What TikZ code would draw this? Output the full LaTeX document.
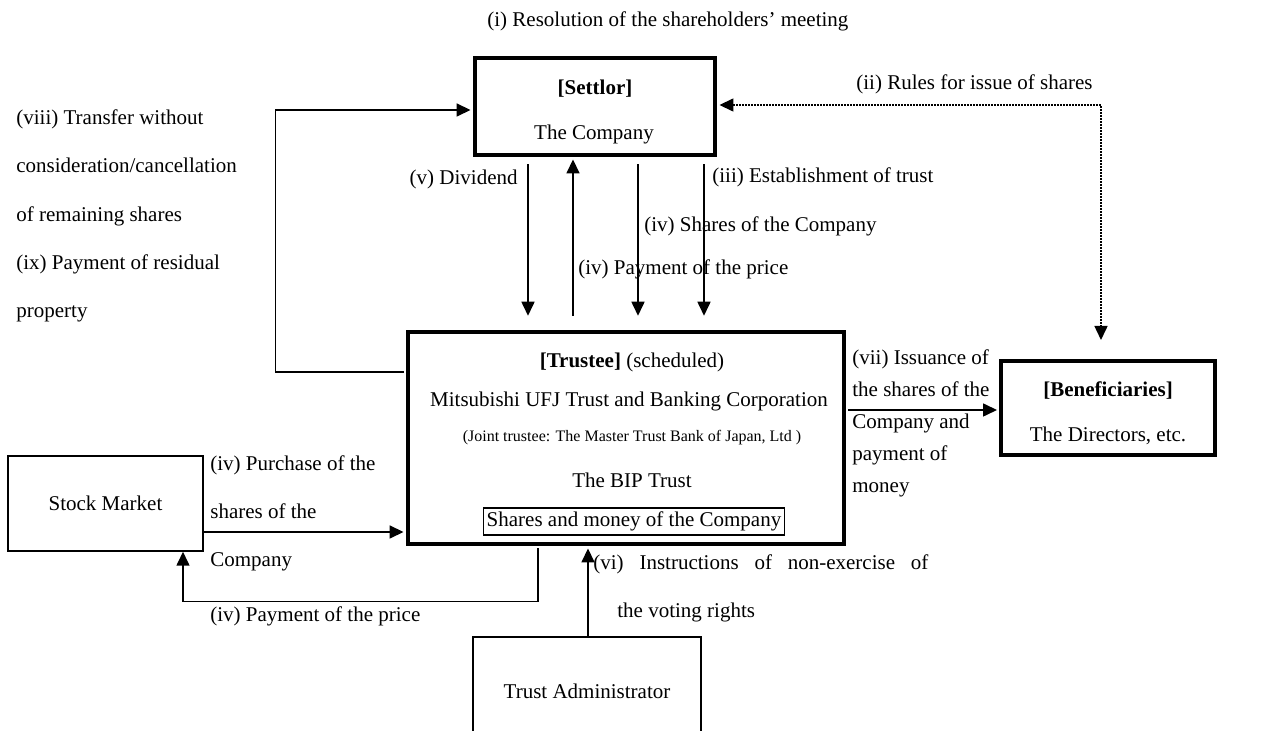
\documentclass[tikz,border=0pt]{standalone}
\usepackage{fontspec}
\setmainfont{Liberation Serif}
\usetikzlibrary{arrows.meta}

\tikzset{
  heavybox/.style={draw, line width=2.25pt, inner sep=0pt},
  lightbox/.style={draw, line width=0.75pt, inner sep=0pt},
  flow/.style={line width=0.8pt, -{Triangle[length=7pt,width=6.5pt]}},
  rulelink/.style={line width=0.75pt, dash pattern=on 0.75pt off 0.75pt,
    {Triangle[length=7pt,width=6.5pt]}-{Triangle[length=7pt,width=6.5pt]}},
  lbl/.style={inner sep=0pt, anchor=mid west},
  inlbl/.style={inner sep=0pt, anchor=mid},
}

\begin{document}
\begin{tikzpicture}[x=0.5pt,y=-0.5pt,font=\fontsize{10.5}{12.6}\selectfont]
  \useasboundingbox (0,0) rectangle (1280,731);
  \clip (0,0) rectangle (1280,731);

  % boxes
  \node[heavybox, minimum width=120pt, minimum height=48.5pt] (settlor) at (595,106.5) {};
  \node[heavybox, minimum width=218pt, minimum height=106pt] (trustee) at (626,438) {};
  \node[heavybox, line width=2pt, minimum width=107pt, minimum height=47pt] (benef) at (1108,408) {};
  \node[lightbox, minimum width=97.5pt, minimum height=47.5pt] (market) at (105.5,503.5) {Stock Market};
  \node[lightbox, minimum width=114pt, minimum height=54pt] (admin) at (587,691) {Trust Administrator};

  % texts inside the boxes
  \node[inlbl] (settlorhead) at (595,90) {\textbf{[Settlor]}};
  \node[inlbl] (settlorname) at (594,135) {The Company};
  \node[inlbl] (trusteehead) at (632,363) {\textbf{[Trustee]} (scheduled)};
  \node[inlbl] (trusteename) at (629,402) {Mitsubishi UFJ Trust and Banking Corporation};
  \node[inlbl] (jointtrustee) at (632,437) {\fontsize{8}{9.6}\selectfont (Joint trustee: The Master Trust Bank of Japan, Ltd )};
  \node[inlbl] (bip) at (632,483) {The BIP Trust};
  \node[lightbox, inner xsep=1.5pt, minimum height=13.5pt] (assets) at (634,521.5) {Shares and money of the Company};
  \node[inlbl] (benefhead) at (1108,392) {\textbf{[Beneficiaries]}};
  \node[inlbl] (benefname) at (1108,437) {The Directors, etc.};

  % connectors
  \draw[flow] ([xshift=-1.1pt,yshift=-21pt]trustee.north west) -- ++(-64pt,0)
    |- ([xshift=-1.1pt,yshift=-1.75pt]settlor.west);
  \draw[flow] ([xshift=-33.5pt,yshift=-3.5pt]settlor.south) -- ([xshift=-49pt,yshift=7pt]trustee.north);
  \draw[flow] ([xshift=-26.5pt,yshift=7pt]trustee.north) -- ([xshift=-11pt,yshift=-1.1pt]settlor.south);
  \draw[flow] ([xshift=21.5pt,yshift=-3.5pt]settlor.south) -- ([xshift=6pt,yshift=7pt]trustee.north);
  \draw[flow] ([xshift=54.5pt,yshift=-3.5pt]settlor.south) -- ([xshift=39pt,yshift=7pt]trustee.north);
  \draw[rulelink] ([xshift=1.1pt,yshift=0.75pt]settlor.east) -| ([xshift=-3.5pt,yshift=9.5pt]benef.north);
  \draw[flow] ([xshift=1.1pt,yshift=14pt]trustee.east) -- ([xshift=-1pt,yshift=-1pt]benef.west);
  \draw[flow] ([yshift=-14.25pt]market.east) -- ([xshift=-1.1pt,yshift=-47pt]trustee.west);
  \draw[flow] ([xshift=-44pt,yshift=-1.1pt]trustee.south) -- ++(0,-26.5pt)
    -| ([xshift=38.75pt]market.south);
  \draw[flow] ([xshift=0.5pt]admin.north) -- ([xshift=-19pt,yshift=-1.1pt]trustee.south);

  % labels
  \node[lbl] (resolution) at (487,22) {(i) Resolution of the shareholders' meeting};
  \node[lbl, anchor=mid east] (rules) at (1093,85) {(ii) Rules for issue of shares};
  \node[lbl] (establish) at (712,178) {(iii) Establishment of trust};
  \node[lbl, anchor=mid east] (dividend) at (518,180) {(v) Dividend};
  \node[lbl] (sharesin) at (644,227) {(iv) Shares of the Company};
  \node[lbl] (pricein) at (578,270) {(iv) Payment of the price};
  \foreach \t [count=\i] in {(viii) Transfer without, consideration/cancellation,
      of remaining shares, (ix) Payment of residual, property}
    \node[lbl] (transfer\i) at (16,{120+48.25*(\i-1)}) {\t};
  \foreach \t [count=\i] in {(vii) Issuance of, the shares of the, Company and,
      payment of, money}
    \node[lbl] (issuance\i) at (852,{360+32*(\i-1)}) {\t};
  \foreach \t [count=\i] in {(iv) Purchase of the, shares of the, Company}
    \node[lbl] (purchase\i) at (210,{466+48*(\i-1)}) {\t};
  \node[lbl] (priceout) at (210,617) {(iv) Payment of the price};
  \node[lbl] (voting1) at (593,565) {\makebox[167.5pt][s]{(vi) Instructions of non-exercise of}};
  \node[lbl] (voting2) at (617,613) {the voting rights};
\end{tikzpicture}
\end{document}
